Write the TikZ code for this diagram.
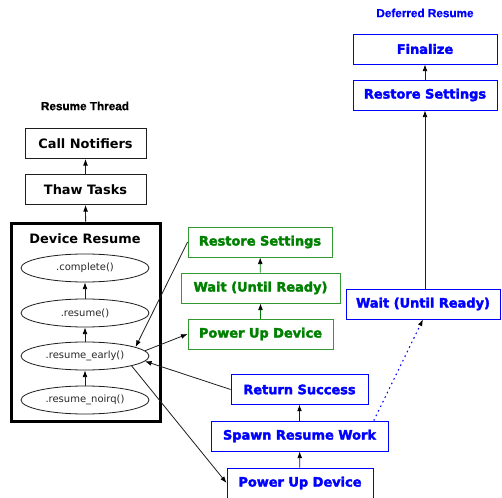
\documentclass[tikz,border=0pt]{standalone}
\usepackage{fontspec}
\setmainfont{DejaVu Sans}
\newfontfamily\boxfont{DejaVu Sans Bold}
\newfontfamily\heavyfont[FakeBold=2.5]{DejaVu Sans Bold}
\newfontfamily\labelfont[FakeBold=1]{Liberation Sans Bold}
\usetikzlibrary{
    shapes.geometric,
    arrows.meta,
    positioning
}
\definecolor{lineBlack}{RGB}{30, 30, 30}
\definecolor{textDark}{RGB}{40, 40, 40}
\definecolor{earlyGreen}{RGB}{0, 128, 0}
\definecolor{deferBlue}{RGB}{0, 0, 255}
\tikzset{
    stage/.style={
        rectangle,
        draw=lineBlack,
        line width=0.6pt,
        fill=white,
        minimum height=22.5pt,
        inner sep=2pt,
        font=\boxfont\fontsize{9.7}{11}\selectfont,
        text=black
    },
    greenStage/.style={
        stage,
        draw=earlyGreen!80,
        text=earlyGreen,
        font=\heavyfont\fontsize{9.7}{11}\selectfont
    },
    blueStage/.style={
        stage,
        draw=deferBlue,
        text=deferBlue,
        font=\heavyfont\fontsize{9.7}{11}\selectfont
    },
    callback/.style={
        ellipse,
        draw=lineBlack,
        line width=0.6pt,
        minimum width=96pt,
        minimum height=21pt,
        inner sep=0pt,
        font=\fontsize{7.5}{9}\selectfont,
        text=textDark
    },
    heading/.style={
        font=\labelfont\fontsize{8.8}{10}\selectfont,
        inner sep=1pt
    },
    flow/.style={
        draw=lineBlack,
        line width=0.6pt,
        -{Latex[length=5pt,width=3.6pt,color=black]}
    },
    greenFlow/.style={flow, draw=earlyGreen},
    blueFlow/.style={flow, draw=deferBlue},
    kick/.style={blueFlow, line width=0.8pt, dash pattern=on 1.2pt off 2.6pt}
}

\begin{document}
\begin{tikzpicture}[x=0.75pt, y=-0.75pt]
    \useasboundingbox (0,0) rectangle (502,498);
    \fill[white] (0,0) rectangle (502,498);

    % Resume thread (left)
    \node[heading] (threadLabel) at (85,106) {Resume Thread};
    \node[stage, minimum width=90.75pt] (notify) at (85.5,143.5) {Call Notifiers};
    \node[stage, minimum width=90.75pt] (thaw) at (85.5,189.5) {Thaw Tasks};

    % Device resume container
    \node[rectangle, draw=black, line width=2.2pt, minimum width=112pt, minimum height=149pt] (devResume) at (86,322.5) {};
    \node[font=\boxfont\fontsize{9.7}{11}\selectfont, inner sep=1pt] (devTitle) at (85,239) {Device Resume};
    \node[callback] (complete) at (85,268) {.complete()};
    \node[callback] (resume) at (85,313) {.resume()};
    \node[callback] (early) at (85,356) {.resume\_early()};
    \node[callback] (noirq) at (85,400) {.resume\_noirq()};

    % Early resume (green)
    \node[greenStage, minimum width=108pt] (gRestore) at (260,242) {Restore Settings};
    \node[greenStage, minimum width=119.25pt] (gWait) at (260.5,288) {Wait (Until Ready)};
    \node[greenStage, minimum width=108.75pt] (gPower) at (260.5,334) {Power Up Device};

    % Async resume (blue)
    \node[blueStage, minimum width=102.75pt, minimum height=22pt] (bReturn) at (299.5,389.5) {Return Success};
    \node[blueStage, minimum width=132.75pt] (bSpawn) at (299.5,436) {Spawn Resume Work};
    \node[blueStage, minimum width=109.5pt] (bPower) at (300,483) {Power Up Device};

    % Deferred resume (right)
    \node[heading, text=deferBlue] (deferLabel) at (425,13) {Deferred Resume};
    \node[blueStage, minimum width=108pt] (dFinal) at (425,49) {Finalize};
    \node[blueStage, minimum width=108pt] (dRestore) at (425,95) {Restore Settings};
    \node[blueStage, minimum width=115.5pt] (dWait) at (423,304) {Wait (Until Ready)};

    % Connections
    \draw[flow] (thaw) -- (notify);
    \draw[flow] (devResume) -- (thaw);
    \draw[flow] (noirq) -- (early);
    \draw[flow] (early) -- (resume);
    \draw[flow] (resume) -- (complete);

    \draw[greenFlow] (gPower) -- (gWait);
    \draw[greenFlow] (gWait) -- (gRestore);
    \draw[flow] (gRestore.west) -- (early.10);
    \draw[flow] (early.5) -- (gPower.west);

    \draw[blueFlow] (bPower) -- (bSpawn);
    \draw[blueFlow] (bSpawn) -- (bReturn);
    \draw[flow] (bReturn.west) -- (early.-5);
    \draw[flow] (early.-12) -- (bPower.west);

    \draw[kick] ([xshift=-11pt]bSpawn.north east) -- (dWait.south);
    \draw[blueFlow] (dWait.north -| dRestore.south) -- (dRestore.south);
    \draw[blueFlow] (dRestore) -- (dFinal);
\end{tikzpicture}
\end{document}
